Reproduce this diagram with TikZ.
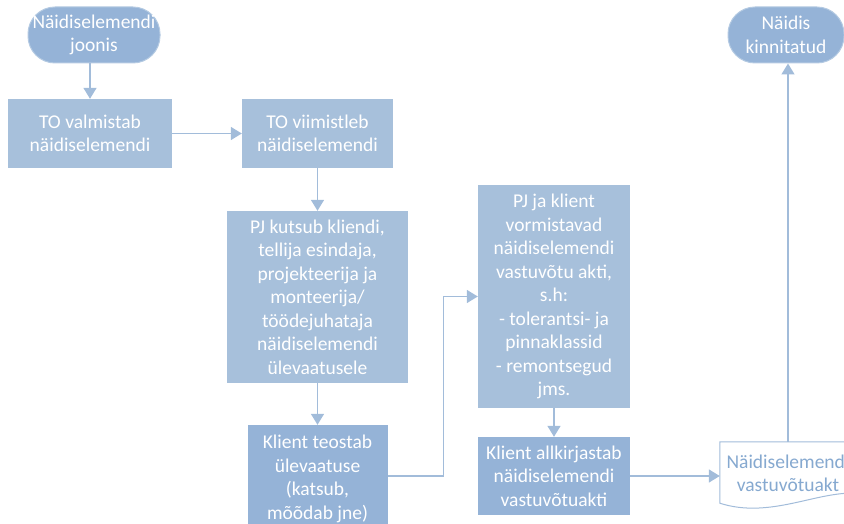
\documentclass[tikz,border=0pt]{standalone}
\usepackage{fontspec}
\setmainfont{Carlito}
\usetikzlibrary{arrows.meta,calc}

\definecolor{boxfill}{HTML}{A7C0DB}
\definecolor{boxdark}{HTML}{95B3D7}
\definecolor{termfill}{HTML}{95B3D7}
\definecolor{termline}{HTML}{B4CAE2}
\definecolor{linkcol}{HTML}{A2BCDA}
\definecolor{doctext}{HTML}{86A9D0}

\tikzset{
  txt/.style={font=\fontsize{19.5}{23.5}\selectfont, align=center, inner sep=0pt},
  procbox/.style={txt, rectangle, fill=boxfill, text=white},
  darkbox/.style={txt, rectangle, fill=boxdark, text=white},
  terminal/.style={txt, rectangle, rounded corners=27pt, fill=termfill,
    draw=termline, line width=1pt, text=white},
  docbox/.style={txt, rectangle, text=doctext},
  link/.style={draw=linkcol, line width=1.5pt,
    -{Triangle[length=11pt,width=13pt]}}
}

\begin{document}
\begin{tikzpicture}[x=1pt,y=-1pt]
\useasboundingbox (0,0) rectangle (844,524);
\clip (0,0) rectangle (844,524);

% terminals
\node[terminal, minimum width=132pt, minimum height=56pt] (start) at (94,35)
  {Näidiselemendi\\joonis};
\node[terminal, minimum width=116pt, minimum height=56pt] (finish) at (786,35)
  {Näidis\\kinnitatud};

% process steps
\node[procbox, minimum width=164pt, minimum height=69pt] (make) at (90,133.5)
  {TO valmistab\\näidiselemendi};
\node[procbox, minimum width=151pt, minimum height=69pt] (finishing) at (317.5,133.5)
  {TO viimistleb\\näidiselemendi};
\node[procbox, minimum width=181pt, minimum height=172pt] (invite) at (317.5,297)
  {PJ kutsub kliendi,\\tellija esindaja,\\projekteerija ja\\monteerija/\\töödejuhataja\\näidiselemendi\\ülevaatusele};
\node[darkbox, minimum width=140pt, minimum height=112pt] (inspect) at (317.5,481)
  {};
\node[txt, text=white] at (317.5,479)
  {Klient teostab\\ülevaatuse\\(katsub,\\mõõdab jne)};
\node[procbox, minimum width=152pt, minimum height=223pt] (protocol) at (554,296.5)
  {PJ ja klient\\vormistavad\\näidiselemendi\\vastuvõtu akti,\\s.h:\\- tolerantsi- ja\\pinnaklassid\\- remontsegud\\jms.};
\node[darkbox, minimum width=152pt, minimum height=78pt] (sign) at (554,476)
  {Klient allkirjastab\\näidiselemendi\\vastuvõtuakti};

% document with wavy lower edge
\node[docbox, minimum width=136pt, minimum height=63pt] (doc) at (788,473.5)
  {Näidiselemendi\\vastuvõtuakt};
\draw[draw=linkcol, line width=1pt, fill=white]
  (doc.north west) -- (doc.north east) -- ([yshift=12pt]doc.south east)
  .. controls ($(doc.south east)+(-40,-14)$) and ($(doc.south west)+(50,14)$)
  .. ([yshift=2pt]doc.south west) -- cycle;
\node[docbox] at (doc.center) {Näidiselemendi\\vastuvõtuakt};

% connectors
\draw[link] (make.north |- start.south) -- (make.north);
\draw[link] (make.east) -- (finishing.west);
\draw[link] (finishing.south) -- (invite.north);
\draw[link] (invite.south) -- (inspect.north);
\draw[link] ([yshift=5pt]inspect.east) -- ++(56,0) |- (protocol.west);
\draw[link] (protocol.south) -- (sign.north);
\draw[link] (sign.east) -- (sign.east -| doc.west);
\draw[link] (doc.north) -- (doc.north |- finish.south);
\end{tikzpicture}
\end{document}
